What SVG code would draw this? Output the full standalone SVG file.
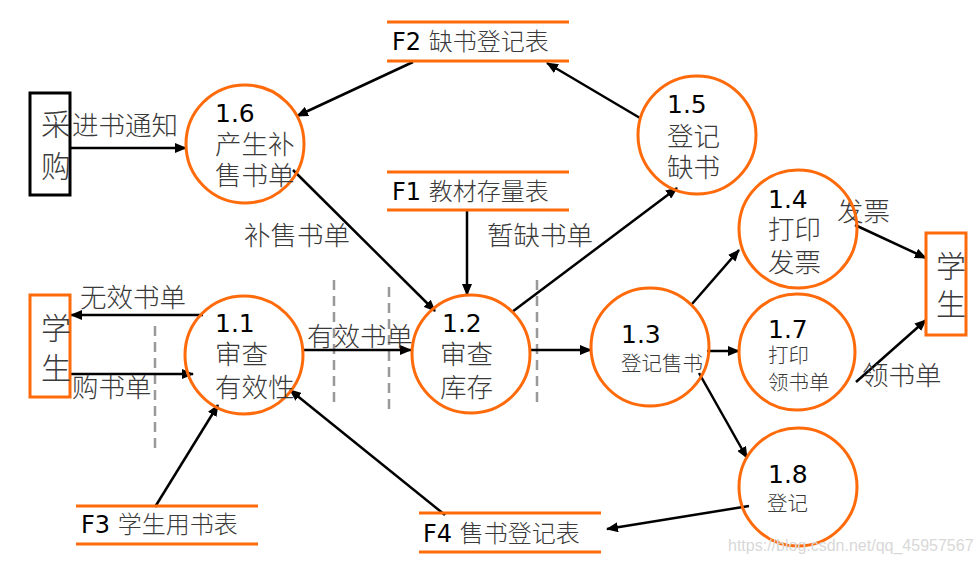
<svg xmlns="http://www.w3.org/2000/svg" width="980" height="563" viewBox="0 0 980 563">
<defs>
<marker id="ah" markerUnits="userSpaceOnUse" markerWidth="12" markerHeight="10" refX="11" refY="5" orient="auto">
<path d="M0,0 L12,5 L0,10 z" fill="#000"/>
</marker>
<style>
.proc{fill:none;stroke:#FF6A0A;stroke-width:3}
.ent{fill:none;stroke:#FF6A0A;stroke-width:3}
.entb{fill:none;stroke:#000;stroke-width:3}
.store{stroke:#FF6A0A;stroke-width:3}
.t{font-family:"DejaVu Sans","Noto Sans CJK SC",sans-serif;fill:#3a3a3a;font-weight:300}
.num{font-size:25px;fill:#000;font-weight:400}
.big{font-size:26.5px}
.sm{font-size:20.5px}
.st{font-size:24px}
.ent-t{font-size:30px}
.k{fill:#000;font-weight:400}
.c{stroke:#000;stroke-width:2.5;fill:none}
.ca{stroke:#000;stroke-width:2.5;fill:none;marker-end:url(#ah)}
.dash{stroke:#999;stroke-width:2.5;stroke-dasharray:10,6;fill:none}
</style>
</defs>
<rect width="980" height="563" fill="#fff"/>

<g id="dashes">
<line class="dash" x1="155" y1="326" x2="155" y2="452"/>
<line class="dash" x1="334" y1="280" x2="334" y2="406"/>
<line class="dash" x1="389" y1="287" x2="389" y2="414"/>
<line class="dash" x1="537" y1="280" x2="537" y2="406"/>
</g>

<g id="connectors">
<line class="ca" x1="70" y1="148" x2="186" y2="148"/>
<line class="ca" x1="413" y1="62" x2="297" y2="116"/>
<line class="ca" x1="640" y1="118" x2="547" y2="63"/>
<line class="ca" x1="293" y1="170" x2="435" y2="311"/>
<line class="ca" x1="467" y1="211" x2="467" y2="295"/>
<line class="ca" x1="512" y1="312" x2="677" y2="188"/>
<line class="ca" x1="203" y1="315" x2="71" y2="315"/>
<line class="ca" x1="70" y1="374" x2="193" y2="374"/>
<line class="ca" x1="304" y1="350" x2="411" y2="350"/>
<line class="ca" x1="530" y1="350" x2="591" y2="350"/>
<line class="ca" x1="155" y1="507" x2="218" y2="405"/>
<line class="ca" x1="445" y1="515" x2="290" y2="390"/>
<line class="ca" x1="692" y1="304" x2="739" y2="250"/>
<line class="ca" x1="707" y1="351" x2="739" y2="351"/>
<line class="ca" x1="699" y1="373" x2="747" y2="458"/>
<line class="ca" x1="749" y1="506" x2="607" y2="529"/>
<line class="ca" x1="855" y1="225" x2="926" y2="258"/>
<line class="ca" x1="856" y1="382" x2="926" y2="320"/>
</g>

<g id="labels">
<text class="t big" x="72" y="135">进书通知</text>
<text class="t big" x="244" y="245">补售书单</text>
<text class="t big" x="487" y="245">暂缺书单</text>
<text class="t big" x="80" y="307">无效书单</text>
<text class="t big" x="72" y="397">购书单</text>
<text class="t big" x="307" y="346">有效书单</text>
<text class="t big" x="837" y="221">发票</text>
<text class="t big" x="862" y="385">领书单</text>
</g>

<g id="caigou">
<rect class="entb" x="30" y="93" width="40" height="102"/>
<text class="t ent-t" x="41" y="135">采</text>
<text class="t ent-t" x="41" y="177">购</text>
</g>
<g id="student-left">
<rect class="ent" x="30" y="295" width="40" height="102"/>
<text class="t ent-t" x="41" y="339">学</text>
<text class="t ent-t" x="41" y="379">生</text>
</g>
<g id="student-right">
<rect class="ent" x="926" y="233" width="40" height="102"/>
<text class="t ent-t" x="936" y="277">学</text>
<text class="t ent-t" x="936" y="315">生</text>
</g>

<g id="F2">
<line class="store" x1="387" y1="22" x2="569" y2="22"/>
<line class="store" x1="387" y1="61" x2="569" y2="61"/>
<text class="t st" x="392" y="50"><tspan class="k">F2</tspan> 缺书登记表</text>
</g>
<g id="F1">
<line class="store" x1="387" y1="172" x2="569" y2="172"/>
<line class="store" x1="387" y1="210" x2="569" y2="210"/>
<text class="t st" x="392" y="200"><tspan class="k">F1</tspan> 教材存量表</text>
</g>
<g id="F3">
<line class="store" x1="76" y1="506" x2="258" y2="506"/>
<line class="store" x1="76" y1="544" x2="258" y2="544"/>
<text class="t st" x="81" y="533"><tspan class="k">F3</tspan> 学生用书表</text>
</g>
<g id="F4">
<line class="store" x1="419" y1="513" x2="601" y2="513"/>
<line class="store" x1="419" y1="552" x2="601" y2="552"/>
<text class="t st" x="423" y="542"><tspan class="k">F4</tspan> 售书登记表</text>
</g>

<g id="p16">
<circle class="proc" cx="245" cy="144" r="59"/>
<text class="t num" x="215" y="122">1.6</text>
<text class="t big" x="215" y="154">产生补</text>
<text class="t big" x="215" y="185">售书单</text>
</g>
<g id="p15">
<circle class="proc" cx="697" cy="135" r="59"/>
<text class="t num" x="667" y="113">1.5</text>
<text class="t big" x="667" y="146">登记</text>
<text class="t big" x="667" y="177">缺书</text>
</g>
<g id="p11">
<circle class="proc" cx="244" cy="355" r="59"/>
<text class="t num" x="215" y="332">1.1</text>
<text class="t big" x="215" y="364">审查</text>
<text class="t big" x="215" y="397">有效性</text>
</g>
<g id="p12">
<circle class="proc" cx="471" cy="354" r="59"/>
<text class="t num" x="442" y="332">1.2</text>
<text class="t big" x="440" y="364">审查</text>
<text class="t big" x="440" y="397">库存</text>
</g>
<g id="p13">
<circle class="proc" cx="650" cy="347" r="59"/>
<text class="t num" x="621" y="343">1.3</text>
<text class="t sm" x="621" y="371">登记售书</text>
</g>
<g id="p14">
<circle class="proc" cx="798" cy="229" r="59"/>
<text class="t num" x="768" y="208">1.4</text>
<text class="t big" x="768" y="239">打印</text>
<text class="t big" x="768" y="272">发票</text>
</g>
<g id="p17">
<circle class="proc" cx="797" cy="352" r="58"/>
<text class="t num" x="768" y="338">1.7</text>
<text class="t sm" x="768" y="363">打印</text>
<text class="t sm" x="768" y="390">领书单</text>
</g>
<g id="p18">
<circle class="proc" cx="798" cy="487" r="59"/>
<text class="t num" x="768" y="483">1.8</text>
<text class="t sm" x="767" y="511">登记</text>
</g>

<text x="728" y="551" style="font-size:16px;fill:#d8d8d8;font-family:'Liberation Sans',sans-serif">https://blog.csdn.net/qq_45957567</text>
</svg>
